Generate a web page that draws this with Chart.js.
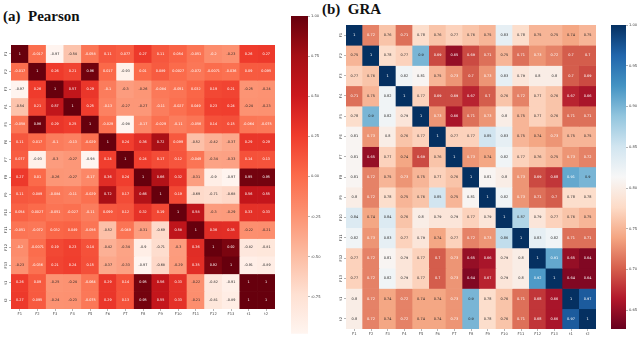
<!DOCTYPE html>
<html>
<head>
<meta charset="utf-8">
<script src="https://cdn.jsdelivr.net/npm/chart.js@4"></script>
<style>
  html, body { margin: 0; padding: 0; background: #fff; }
  body { position: relative; width: 640px; height: 337px; overflow: hidden; }
  canvas { position: absolute; left: 0; top: 0; filter: blur(0.35px); }
  .title { position: absolute; font: bold 15px "Liberation Serif", serif; color: #111; white-space: pre; }
</style>
</head>
<body>
<div class="title" style="left:3px;top:8px">(a)  Pearson</div>
<div class="title" style="left:322px;top:1px">(b)  GRA</div>
<canvas id="heatA" width="640" height="337"></canvas>
<canvas id="barA" width="640" height="337"></canvas>
<canvas id="heatB" width="640" height="337"></canvas>
<canvas id="barB" width="640" height="337"></canvas>
<script>
const features = ['F1', 'F2', 'F3', 'F4', 'F5', 'F6', 'F7', 'F8', 'F9', 'F10', 'F11', 'F12', 'F13', 't1', 't2'];

const pearson = [
    [1, -0.017, -0.97, -0.54, -0.058, 0.11, 0.077, 0.27, 0.11, 0.054, -0.051, -0.2, -0.23, 0.26, 0.27],
    [-0.017, 1, 0.26, 0.21, 0.96, 0.017, -0.93, 0.01, 0.089, 0.0027, -0.072, -0.0071, -0.036, 0.09, 0.095],
    [-0.97, 0.26, 1, 0.57, 0.29, -0.1, -0.3, -0.26, -0.084, -0.051, 0.032, 0.19, 0.21, -0.25, -0.24],
    [-0.54, 0.21, 0.57, 1, 0.25, -0.13, -0.27, -0.27, -0.11, -0.027, 0.049, 0.23, 0.24, -0.24, -0.23],
    [-0.058, 0.96, 0.29, 0.25, 1, -0.029, -0.98, -0.17, -0.029, -0.11, -0.056, 0.14, 0.15, -0.064, -0.075],
    [0.11, 0.017, -0.1, -0.13, -0.029, 1, 0.24, 0.36, 0.72, 0.099, -0.52, -0.42, -0.37, 0.29, 0.29],
    [0.077, -0.93, -0.3, -0.27, -0.98, 0.24, 1, 0.24, 0.17, 0.12, -0.049, -0.34, -0.33, 0.14, 0.13],
    [0.27, 0.01, -0.26, -0.27, -0.17, 0.36, 0.24, 1, 0.66, 0.32, -0.31, -0.9, -0.97, 0.95, 0.95],
    [0.11, 0.089, -0.084, -0.11, -0.029, 0.72, 0.17, 0.66, 1, 0.19, -0.69, -0.71, -0.68, 0.56, 0.55],
    [0.054, 0.0027, -0.051, -0.027, -0.11, 0.099, 0.12, 0.32, 0.19, 1, 0.58, -0.3, -0.29, 0.33, 0.33],
    [-0.051, -0.072, 0.032, 0.049, -0.056, -0.52, -0.049, -0.31, -0.69, 0.58, 1, 0.36, 0.35, -0.22, -0.21],
    [-0.2, -0.0071, 0.19, 0.23, 0.14, -0.42, -0.34, -0.9, -0.71, -0.3, 0.36, 1, 0.92, -0.82, -0.81],
    [-0.23, -0.036, 0.21, 0.24, 0.15, -0.37, -0.33, -0.97, -0.68, -0.29, 0.35, 0.92, 1, -0.91, -0.89],
    [0.26, 0.09, -0.25, -0.24, -0.064, 0.29, 0.14, 0.95, 0.56, 0.33, -0.22, -0.82, -0.91, 1, 1],
    [0.27, 0.095, -0.24, -0.23, -0.075, 0.29, 0.13, 0.95, 0.55, 0.33, -0.21, -0.81, -0.89, 1, 1]
];

const gra = [
    [1, 0.72, 0.76, 0.71, 0.78, 0.76, 0.77, 0.76, 0.75, 0.83, 0.78, 0.75, 0.75, 0.74, 0.75],
    [0.75, 1, 0.78, 0.77, 0.9, 0.69, 0.65, 0.69, 0.71, 0.75, 0.71, 0.73, 0.72, 0.7, 0.7],
    [0.77, 0.76, 1, 0.82, 0.81, 0.75, 0.73, 0.7, 0.73, 0.83, 0.79, 0.8, 0.8, 0.7, 0.69],
    [0.71, 0.75, 0.82, 1, 0.77, 0.69, 0.69, 0.67, 0.7, 0.76, 0.72, 0.77, 0.76, 0.67, 0.66],
    [0.78, 0.9, 0.82, 0.79, 1, 0.73, 0.66, 0.71, 0.73, 0.8, 0.75, 0.77, 0.76, 0.71, 0.71],
    [0.81, 0.73, 0.8, 0.76, 0.77, 1, 0.77, 0.77, 0.85, 0.83, 0.75, 0.74, 0.73, 0.75, 0.75],
    [0.81, 0.65, 0.77, 0.74, 0.69, 0.76, 1, 0.73, 0.74, 0.82, 0.77, 0.76, 0.75, 0.73, 0.72],
    [0.81, 0.72, 0.75, 0.73, 0.75, 0.77, 0.76, 1, 0.81, 0.8, 0.73, 0.69, 0.68, 0.91, 0.9],
    [0.8, 0.72, 0.78, 0.75, 0.76, 0.85, 0.75, 0.81, 1, 0.82, 0.73, 0.71, 0.7, 0.78, 0.78],
    [0.84, 0.74, 0.84, 0.76, 0.8, 0.79, 0.79, 0.77, 0.79, 1, 0.87, 0.79, 0.77, 0.76, 0.75],
    [0.82, 0.73, 0.83, 0.77, 0.79, 0.74, 0.77, 0.72, 0.73, 0.86, 1, 0.83, 0.82, 0.71, 0.71],
    [0.77, 0.72, 0.81, 0.79, 0.77, 0.7, 0.73, 0.65, 0.66, 0.79, 0.8, 1, 0.91, 0.65, 0.64],
    [0.77, 0.72, 0.82, 0.79, 0.77, 0.7, 0.73, 0.64, 0.67, 0.79, 0.8, 0.92, 1, 0.64, 0.64],
    [0.8, 0.72, 0.74, 0.72, 0.74, 0.74, 0.73, 0.9, 0.78, 0.76, 0.71, 0.68, 0.66, 1, 0.97],
    [0.8, 0.72, 0.74, 0.72, 0.74, 0.74, 0.73, 0.9, 0.78, 0.76, 0.71, 0.68, 0.66, 0.97, 1]
];

const pearsonTicks = [1, 0.75, 0.5, 0.25, 0, -0.25, -0.5, -0.75];
const graTicks = [1, 0.95, 0.9, 0.85, 0.8, 0.75, 0.7, 0.65];
const pearsonRange = [-0.98, 1];
const graRange = [0.627, 1];

const redsStops = ['#fff5f0', '#fee0d2', '#fcbba1', '#fc9272', '#fb6a4a', '#ef3b2c', '#cb181d', '#a50f15', '#67000d'];
const rdbuStops = ['#67001f', '#b2182b', '#d6604d', '#f4a582', '#fddbc7', '#f7f7f7', '#d1e5f0', '#92c5de', '#4393c3', '#2166ac', '#053061'];

const LABEL_FONT = '"DejaVu Sans", sans-serif';
const TICK_COLOR = '#444';

function hexToRgb(hex) {
    return [1, 3, 5].map(i => parseInt(hex.slice(i, i + 2), 16));
}

function sampleColor(stops, t) {
    const pos = Math.min(Math.max(t, 0), 1) * (stops.length - 1);
    const i = Math.min(Math.floor(pos), stops.length - 2);
    const a = hexToRgb(stops[i]);
    const b = hexToRgb(stops[i + 1]);
    return a.map((c, k) => Math.round(c + (b[k] - c) * (pos - i)));
}

function luminance(rgb) {
    const l = rgb.map(c => {
        const s = c / 255;
        return s <= 0.03928 ? s / 12.92 : Math.pow((s + 0.055) / 1.055, 2.4);
    });
    return 0.2126 * l[0] + 0.7152 * l[1] + 0.0722 * l[2];
}

// keeps the plot area where the reference has it, whatever the tick sizes are
function boxOptions(box, axisLeft, axisBottom) {
    return {
        left: box.left - axisLeft,
        top: box.top,
        right: 640 - box.right,
        bottom: 337 - box.bottom - axisBottom
    };
}

const cellLabels = {
    id: 'cellLabels',
    afterDatasetsDraw(chart, args, opts) {
        const ctx = chart.ctx;
        ctx.save();
        ctx.font = opts.size + 'px ' + LABEL_FONT;
        ctx.textAlign = 'center';
        ctx.textBaseline = 'middle';
        opts.values.forEach((row, r) => {
            const bars = chart.getDatasetMeta(r).data;
            row.forEach((v, c) => {
                const rgb = sampleColor(opts.stops, (v - opts.range[0]) / (opts.range[1] - opts.range[0]));
                ctx.fillStyle = luminance(rgb) > 0.408 ? '#262626' : '#fff';
                const p = bars[c].getCenterPoint();
                ctx.fillText(String(v), p.x, p.y);
            });
        });
        ctx.restore();
    },
    // rotated y tick labels: Chart.js right-aligns them along the axis, so they would sit off the tick
    afterDraw(chart) {
        const ctx = chart.ctx;
        const y = chart.scales.y;
        ctx.save();
        ctx.font = '3.7px ' + LABEL_FONT;
        ctx.fillStyle = TICK_COLOR;
        ctx.textAlign = 'center';
        ctx.textBaseline = 'middle';
        features.forEach((f, i) => {
            ctx.save();
            ctx.translate(y.right - 5, y.getPixelForValue(i + 0.5));
            ctx.rotate(-Math.PI / 2);
            ctx.fillText(f, 0, 0);
            ctx.restore();
        });
        ctx.restore();
    }
};

function renderHeatmap(id, values, stops, range, box, fontSize) {
    const datasets = values.map(row => ({
        data: features.map(() => 1),
        backgroundColor: row.map(v => {
            const rgb = sampleColor(stops, (v - range[0]) / (range[1] - range[0]));
            return 'rgb(' + rgb.join(',') + ')';
        }),
        borderWidth: 0,
        barPercentage: 1,
        categoryPercentage: 1
    }));
    new Chart(document.getElementById(id), {
        type: 'bar',
        data: { labels: features, datasets },
        plugins: [cellLabels],
        options: {
            responsive: false,
            animation: false,
            layout: { padding: boxOptions(box, 10, 9) },
            plugins: {
                legend: { display: false },
                tooltip: { enabled: false },
                cellLabels: { values, stops, range, size: fontSize }
            },
            scales: {
                x: {
                    stacked: true,
                    afterFit(s) { s.height = 9; },
                    grid: { offset: false, drawOnChartArea: false, tickLength: 2, color: TICK_COLOR, lineWidth: 0.4 },
                    border: { display: false },
                    ticks: { color: TICK_COLOR, font: { family: LABEL_FONT, size: 3.7 }, padding: 1, maxRotation: 0, autoSkip: false }
                },
                y: {
                    stacked: true,
                    reverse: true,
                    min: 0,
                    max: features.length,
                    afterFit(s) { s.width = 10; },
                    afterBuildTicks(s) { s.ticks = features.map((f, i) => ({ value: i + 0.5 })); },
                    grid: { drawOnChartArea: false, tickLength: 2, color: TICK_COLOR, lineWidth: 0.4 },
                    border: { display: false },
                    ticks: { display: false }
                }
            }
        }
    });
}

function renderColorbar(id, stops, range, tickValues, box) {
    new Chart(document.getElementById(id), {
        type: 'bar',
        data: {
            labels: [''],
            datasets: [{
                data: [range],
                borderWidth: 0,
                barPercentage: 1,
                categoryPercentage: 1,
                backgroundColor(c) {
                    const area = c.chart.chartArea;
                    if (!area) return stops[0];
                    const g = c.chart.ctx.createLinearGradient(0, area.bottom, 0, area.top);
                    stops.forEach((col, i) => g.addColorStop(i / (stops.length - 1), col));
                    return g;
                }
            }]
        },
        options: {
            responsive: false,
            animation: false,
            layout: { padding: { left: box.left, top: box.top, right: 640 - box.right - 14, bottom: 337 - box.bottom } },
            plugins: { legend: { display: false }, tooltip: { enabled: false } },
            scales: {
                x: { display: false },
                y: {
                    position: 'right',
                    min: range[0],
                    max: range[1],
                    afterFit(s) { s.width = 14; },
                    afterBuildTicks(s) { s.ticks = tickValues.map(v => ({ value: v })); },
                    grid: { drawOnChartArea: false, tickLength: 2, color: TICK_COLOR, lineWidth: 0.4 },
                    border: { display: false },
                    ticks: {
                        color: TICK_COLOR,
                        font: { family: LABEL_FONT, size: 3.7 },
                        padding: 1,
                        autoSkip: false,
                        callback: v => v.toFixed(2)
                    }
                }
            }
        }
    });
}

renderHeatmap('heatA', pearson, redsStops, pearsonRange, { left: 11, top: 45, right: 275, bottom: 309 }, 3.4);
renderColorbar('barA', redsStops, pearsonRange, pearsonTicks, { left: 291, top: 16, right: 308, bottom: 335 });
renderHeatmap('heatB', gra, rdbuStops, graRange, { left: 346, top: 25, right: 596, bottom: 329 }, 3.5);
renderColorbar('barB', rdbuStops, graRange, graTicks, { left: 611, top: 25, right: 626, bottom: 329 });
</script>
</body>
</html>
